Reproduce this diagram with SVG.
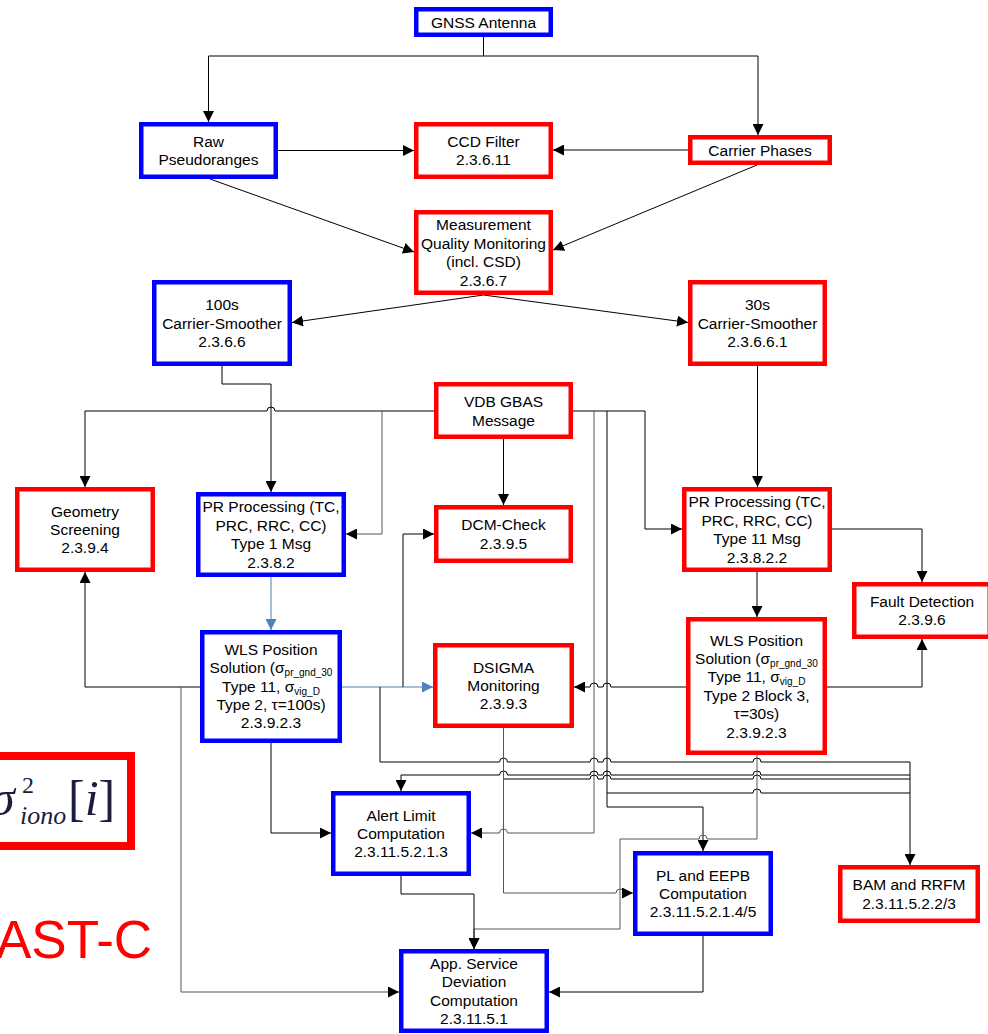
<svg xmlns="http://www.w3.org/2000/svg" width="988" height="1034" viewBox="0 0 988 1034">
<defs>
<style>
.box{fill:#fff;stroke-width:4.5}
.r{stroke:#f00}
.b{stroke:#00f}
.t{font-family:"Liberation Sans",Arial,sans-serif;font-size:15.5px;text-anchor:middle;fill:#000}
.s{font-size:10px}
.c{fill:none;stroke:#000;stroke-width:1}
.g{stroke:#555}
.bl{stroke:#4a7ebb}
</style>
<marker id="a" markerUnits="userSpaceOnUse" markerWidth="11" markerHeight="11" refX="11" refY="5.5" orient="auto"><path d="M0,0 L11,5.5 L0,11 z" fill="#000"/></marker>
<marker id="ab" markerUnits="userSpaceOnUse" markerWidth="11" markerHeight="11" refX="11" refY="5.5" orient="auto"><path d="M0,0 L11,5.5 L0,11 z" fill="#4f81bd"/></marker>
</defs>
<rect width="988" height="1034" fill="#fff"/>

<g id="connectors">
<path class="c" d="M483.5,37 V56 H208.5 V122" marker-end="url(#a)"/>
<path class="c" d="M483.5,56 H758 V135" marker-end="url(#a)"/>
<path class="c" d="M278,150.5 H414" marker-end="url(#a)"/>
<path class="c" d="M688,150 H553" marker-end="url(#a)"/>
<path class="c" d="M210,179 L414,252" marker-end="url(#a)"/>
<path class="c" d="M757,165 L553,250" marker-end="url(#a)"/>
<path class="c" d="M483.5,295 L292,322.5" marker-end="url(#a)"/>
<path class="c" d="M483.5,295 L688,322.5" marker-end="url(#a)"/>
<path class="c" d="M222,366 V384 H271 V492" marker-end="url(#a)"/>
<path class="c" d="M434,411 H275 A4,4 0 0 0 267,411 H85 V487" marker-end="url(#a)"/>
<path class="c g" d="M382,411 V534 H346" marker-end="url(#a)"/>
<path class="c" d="M503.5,439 V505" marker-end="url(#a)"/>
<path class="c" d="M573,411 H645 V529 H682" marker-end="url(#a)"/>
<path class="c g" d="M594,411 V833 H507.5 A4,4 0 0 0 499.5,833 H471" marker-end="url(#a)"/>
<path class="c" d="M607,411 V807 H703 V851" marker-end="url(#a)"/>
<path class="c" d="M607,793 H753 A4,4 0 0 1 761,793 H910"/>
<path class="c" d="M757.5,366 V487" marker-end="url(#a)"/>
<path class="c" d="M757,572 V617" marker-end="url(#a)"/>
<path class="c" d="M832,529 H922 V582" marker-end="url(#a)"/>
<path class="c" d="M827,687 H922 V639" marker-end="url(#a)"/>
<path class="c" d="M686,687 H611 A4,4 0 0 0 603,687 H598 A4,4 0 0 0 590,687 H574" marker-end="url(#a)"/>
<path class="c bl" d="M271,577 V630" marker-end="url(#ab)"/>
<path class="c bl" d="M342,687 H433" marker-end="url(#ab)"/>
<path class="c" d="M403,687 V534 H434" marker-end="url(#a)"/>
<path class="c" d="M380,687 V762 H499.5 A4,4 0 0 1 507.5,762 H590 A4,4 0 0 1 598,762 H603 A4,4 0 0 1 611,762 H753 A4,4 0 0 1 761,762 H910 V865" marker-end="url(#a)"/>
<path class="c" d="M910,775 H761 A4,4 0 0 0 753,775 H611 A4,4 0 0 0 603,775 H598 A4,4 0 0 0 590,775 H507.5 A4,4 0 0 0 499.5,775 H401 V791" marker-end="url(#a)"/>
<path class="c" d="M503.5,779 H590 A4,4 0 0 1 598,779 H603 A4,4 0 0 1 611,779 H753 A4,4 0 0 1 761,779 H910"/>
<path class="c g" d="M503.5,728 V893 H616 A4,4 0 0 1 624,893 H633" marker-end="url(#a)"/>
<path class="c" d="M200,687 H85 V572" marker-end="url(#a)"/>
<path class="c g" d="M181,687 V992 H399" marker-end="url(#a)"/>
<path class="c" d="M271,743 V833 H331" marker-end="url(#a)"/>
<path class="c g" d="M757,755 V839 H707 A4,4 0 0 0 699,839 H620 V929 H474 V949" marker-end="url(#a)"/>
<path class="c" d="M401,876 V894 H474 V949" marker-end="url(#a)"/>
<path class="c" d="M703,936 V992 H549" marker-end="url(#a)"/>
</g>

<g id="gnss"><rect class="box b" x="416.25" y="9.25" width="134.5" height="25.5"/><text class="t" x="483.5" y="27.5">GNSS Antenna</text></g>
<g id="raw"><rect class="box b" x="141.25" y="124.25" width="134.5" height="52.5"/><text class="t" x="208.5" y="146.8">Raw</text><text class="t" x="208.5" y="165.2">Pseudoranges</text></g>
<g id="ccd"><rect class="box r" x="416.25" y="124.25" width="134.5" height="52.5"/><text class="t" x="483.5" y="146.8">CCD Filter</text><text class="t" x="483.5" y="165.2">2.3.6.11</text></g>
<g id="carrier"><rect class="box r" x="690.25" y="137.25" width="139.5" height="25.5"/><text class="t" x="760" y="155.5">Carrier Phases</text></g>
<g id="mqm"><rect class="box r" x="416.25" y="212.25" width="134.5" height="80.5"/><text class="t" x="483.5" y="230.4">Measurement</text><text class="t" x="483.5" y="248.8">Quality Monitoring</text><text class="t" x="483.5" y="267.2">(incl. CSD)</text><text class="t" x="483.5" y="285.6">2.3.6.7</text></g>
<g id="cs100"><rect class="box b" x="154.25" y="282.25" width="135.5" height="81.5"/><text class="t" x="222" y="310.1">100s</text><text class="t" x="222" y="328.5">Carrier-Smoother</text><text class="t" x="222" y="346.9">2.3.6.6</text></g>
<g id="cs30"><rect class="box r" x="690.25" y="282.25" width="134.5" height="81.5"/><text class="t" x="757.5" y="310.1">30s</text><text class="t" x="757.5" y="328.5">Carrier-Smoother</text><text class="t" x="757.5" y="346.9">2.3.6.6.1</text></g>
<g id="vdb"><rect class="box r" x="436.25" y="384.25" width="134.5" height="52.5"/><text class="t" x="503.5" y="407.3">VDB GBAS</text><text class="t" x="503.5" y="425.7">Message</text></g>
<g id="geometry"><rect class="box r" x="17.25" y="489.25" width="135.5" height="80.5"/><text class="t" x="85" y="516.6">Geometry</text><text class="t" x="85" y="535">Screening</text><text class="t" x="85" y="553.4">2.3.9.4</text></g>
<g id="pr1"><rect class="box b" x="198.25" y="494.25" width="145.5" height="80.5"/><text class="t" x="271" y="512.4">PR Processing (TC,</text><text class="t" x="271" y="530.8">PRC, RRC, CC)</text><text class="t" x="271" y="549.2">Type 1 Msg</text><text class="t" x="271" y="567.6">2.3.8.2</text></g>
<g id="dcm"><rect class="box r" x="436.25" y="507.25" width="134.5" height="53.5"/><text class="t" x="503.5" y="530.3">DCM-Check</text><text class="t" x="503.5" y="548.7">2.3.9.5</text></g>
<g id="pr11"><rect class="box r" x="684.25" y="489.25" width="145.5" height="80.5"/><text class="t" x="757" y="507.4">PR Processing (TC,</text><text class="t" x="757" y="525.8">PRC, RRC, CC)</text><text class="t" x="757" y="544.2">Type 11 Msg</text><text class="t" x="757" y="562.6">2.3.8.2.2</text></g>
<g id="fault"><rect class="box r" x="854.25" y="584.25" width="135.5" height="52.5"/><text class="t" x="922" y="606.8">Fault Detection</text><text class="t" x="922" y="625.2">2.3.9.6</text></g>
<g id="wls100"><rect class="box b" x="202.25" y="632.25" width="137.5" height="108.5"/><text class="t" x="271" y="654.7">WLS Position</text><text class="t" x="271" y="673.1">Solution (σ<tspan class="s" dy="3">pr_gnd_30</tspan></text><text class="t" x="271" y="691.5">Type 11, σ<tspan class="s" dy="3">vig_D</tspan></text><text class="t" x="271" y="709.9">Type 2, τ=100s)</text><text class="t" x="271" y="728.3">2.3.9.2.3</text></g>
<g id="dsigma"><rect class="box r" x="435.25" y="645.25" width="136.5" height="80.5"/><text class="t" x="503.5" y="672.6">DSIGMA</text><text class="t" x="503.5" y="691">Monitoring</text><text class="t" x="503.5" y="709.4">2.3.9.3</text></g>
<g id="wls30"><rect class="box r" x="688.25" y="619.25" width="136.5" height="133.5"/><text class="t" x="756.5" y="645.5">WLS Position</text><text class="t" x="756.5" y="663.9">Solution (σ<tspan class="s" dy="3">pr_gnd_30</tspan></text><text class="t" x="756.5" y="682.3">Type 11, σ<tspan class="s" dy="3">vig_D</tspan></text><text class="t" x="756.5" y="700.7">Type 2 Block 3,</text><text class="t" x="756.5" y="719.1">τ=30s)</text><text class="t" x="756.5" y="737.5">2.3.9.2.3</text></g>
<g id="alert"><rect class="box b" x="333.25" y="793.25" width="135.5" height="80.5"/><text class="t" x="401" y="820.6">Alert Limit</text><text class="t" x="401" y="839">Computation</text><text class="t" x="401" y="857.4">2.3.11.5.2.1.3</text></g>
<g id="pl"><rect class="box b" x="635.25" y="853.25" width="135.5" height="80.5"/><text class="t" x="703" y="880.6">PL and EEPB</text><text class="t" x="703" y="899">Computation</text><text class="t" x="703" y="917.4">2.3.11.5.2.1.4/5</text></g>
<g id="bam"><rect class="box r" x="840.25" y="867.25" width="137.5" height="53.5"/><text class="t" x="909" y="890.3">BAM and RRFM</text><text class="t" x="909" y="908.7">2.3.11.5.2.2/3</text></g>
<g id="app"><rect class="box b" x="401.25" y="951.25" width="145.5" height="79.5"/><text class="t" x="474" y="968.9">App. Service</text><text class="t" x="474" y="987.3">Deviation</text><text class="t" x="474" y="1005.7">Computation</text><text class="t" x="474" y="1024.1">2.3.11.5.1</text></g>

<g id="sigma-iono">
<rect x="-20" y="756" width="151" height="90" fill="#fff" stroke="#f00" stroke-width="8"/>
<text x="-10" y="815" font-family="Liberation Serif,serif" font-style="italic" font-size="50" fill="#1c1c3c">σ</text>
<text x="22" y="793" font-family="Liberation Serif,serif" font-size="24" fill="#1c1c3c">2</text>
<text x="20" y="824" font-family="Liberation Serif,serif" font-style="italic" font-size="26" fill="#1c1c3c">iono</text>
<text x="68" y="815" font-family="Liberation Serif,serif" font-size="50" fill="#1c1c3c">[<tspan font-style="italic">i</tspan>]</text>
</g>
<text id="ast-c" x="-4" y="958" font-family="Liberation Sans,Arial,sans-serif" font-size="53" fill="#f00">AST-C</text>
</svg>
